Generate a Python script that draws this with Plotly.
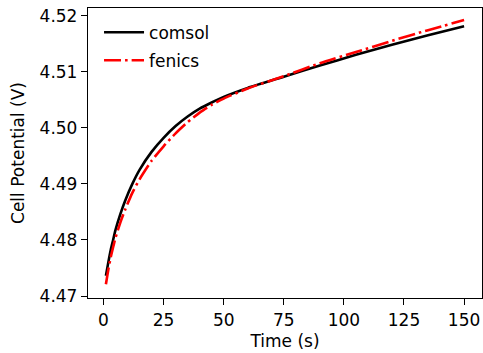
import plotly.graph_objects as go

time_s = [1, 2, 3, 4, 5, 7, 9, 12, 15, 20, 25, 30, 35, 40, 45, 50, 60, 75, 90, 105, 120, 135, 150]
comsol = [4.4736, 4.4760, 4.4782, 4.4800, 4.4818, 4.4846, 4.4870, 4.4900, 4.4925, 4.4957,
          4.4982, 4.5003, 4.5020, 4.5034, 4.5045, 4.5055, 4.5071, 4.5091, 4.5111, 4.5130,
          4.5148, 4.5165, 4.5181]
fenics = [4.4721, 4.4747, 4.4769, 4.4787, 4.4804, 4.4831, 4.4854, 4.4884, 4.4908, 4.4941,
          4.4967, 4.4990, 4.5010, 4.5027, 4.5041, 4.5052, 4.5070, 4.5092, 4.5115, 4.5135,
          4.5155, 4.5174, 4.5192]
x_ticks = [0, 25, 50, 75, 100, 125, 150]
y_ticks = [4.47, 4.48, 4.49, 4.50, 4.51, 4.52]
y_ticktext = ["4.47", "4.48", "4.49", "4.50", "4.51", "4.52"]

FONT = "DejaVu Sans"
FS = 17

fig = go.Figure()
fig.add_trace(go.Scatter(x=time_s, y=comsol, mode="lines", name="comsol", legendgroup="a",
                         line=dict(color="black", width=2.6, shape="spline", smoothing=0.6)))
fig.add_trace(go.Scatter(x=time_s, y=fenics, mode="lines", name="fenics", legendgroup="b",
                         line=dict(color="#ff0000", width=2.6, shape="spline", smoothing=0.6,
                                   dash="17px,4px,2.6px,4px")))

axis_common = dict(showgrid=False, zeroline=False, showline=True, linecolor="black",
                   linewidth=1.3, mirror=True, ticks="outside", ticklen=6, tickwidth=1.3,
                   tickcolor="black", tickfont=dict(family=FONT, size=FS, color="black"))

fig.update_xaxes(range=[-6.45, 157.45], tickvals=x_ticks,
                 title=dict(text="Time (s)", font=dict(family=FONT, size=FS, color="black"), standoff=6),
                 **axis_common)
fig.update_yaxes(range=[4.46965, 4.52135], tickvals=y_ticks, ticktext=y_ticktext,
                 title=dict(text="Cell Potential (V)", font=dict(family=FONT, size=FS, color="black"), standoff=10),
                 **axis_common)

fig.update_layout(
    width=483, height=353,
    margin=dict(l=88, r=1, t=8, b=55),
    paper_bgcolor="white", plot_bgcolor="white",
    font=dict(family=FONT, size=FS, color="black"),
    showlegend=True,
    legend=dict(x=0.028, y=0.977, xanchor="left", yanchor="top", bgcolor="rgba(0,0,0,0)",
                borderwidth=0, font=dict(family=FONT, size=FS, color="black"),
                itemwidth=40, traceorder="grouped", tracegroupgap=3),
)

fig.write_html("out.html")
